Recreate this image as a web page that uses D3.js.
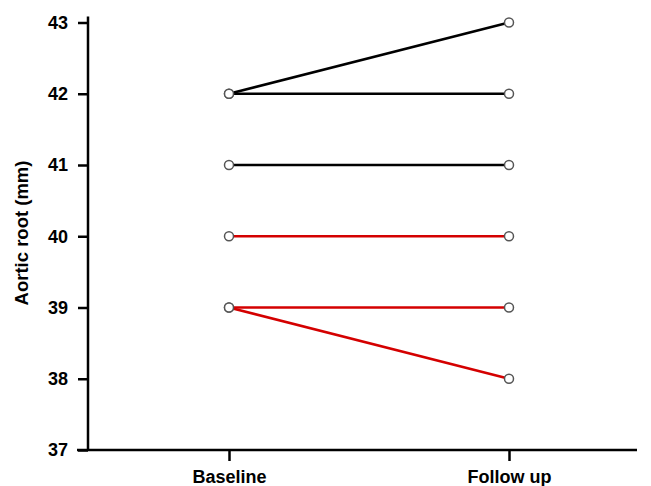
<!DOCTYPE html>
<html>
<head>
<meta charset="utf-8">
<script src="https://cdn.jsdelivr.net/npm/d3@7.9.0/dist/d3.min.js"></script>
<style>
  body { margin: 0; background: #fff; }
  svg { display: block; font-family: "Liberation Sans", Arial, sans-serif; }
</style>
</head>
<body>
<div id="chart"></div>
<script>
const timepoints = ['Baseline', 'Follow up'];
const baseline = [42, 42, 41, 40, 39, 39];
const followUp = [43, 42, 41, 40, 39, 38];
const groups = ['black', 'black', 'black', 'red', 'red', 'red'];
const yTicks = [37, 38, 39, 40, 41, 42, 43];

const width = 651;
const height = 486;

const svg = d3.select('#chart')
  .append('svg')
  .attr('width', width)
  .attr('height', height);

// scales
const x = d3.scalePoint().domain(timepoints).range([229, 509]);
const y = d3.scaleLinear().domain([37, 43]).range([450, 22.5]);

const colour = { black: '#000', red: '#d40000' };

// y axis
const yAxis = svg.append('g')
  .attr('transform', 'translate(88,0)')
  .call(d3.axisLeft(y).tickValues(yTicks).tickSize(10).tickPadding(10).tickFormat(d3.format('d')));
yAxis.select('.domain').remove();
yAxis.selectAll('line').attr('stroke', '#000').attr('stroke-width', 2.5);
yAxis.selectAll('text')
  .attr('fill', '#000')
  .attr('font-size', 18)
  .attr('font-weight', 'bold');
svg.append('line')
  .attr('x1', 88).attr('x2', 88)
  .attr('y1', 16.5).attr('y2', y(37))
  .attr('stroke', '#000').attr('stroke-width', 2.5);

// x axis
const xAxis = svg.append('g')
  .attr('transform', `translate(0,${y(37)})`)
  .call(d3.axisBottom(x).tickSize(11).tickPadding(9));
xAxis.select('.domain').remove();
xAxis.selectAll('line').attr('stroke', '#000').attr('stroke-width', 2.5);
xAxis.selectAll('text')
  .attr('fill', '#000')
  .attr('font-size', 18)
  .attr('font-weight', 'bold');
svg.append('line')
  .attr('x1', 77).attr('x2', 637)
  .attr('y1', y(37)).attr('y2', y(37))
  .attr('stroke', '#000').attr('stroke-width', 2.5);

// axis title
svg.append('text')
  .attr('transform', `translate(28,233) rotate(-90)`)
  .attr('text-anchor', 'middle')
  .attr('font-size', 18.5)
  .attr('font-weight', 'bold')
  .text('Aortic root (mm)');

// paired lines
const pairs = baseline.map((b, i) => ({ b, f: followUp[i], g: groups[i] }));

svg.append('g').selectAll('line')
  .data(pairs)
  .join('line')
  .attr('x1', x('Baseline'))
  .attr('x2', x('Follow up'))
  .attr('y1', d => y(d.b))
  .attr('y2', d => y(d.f))
  .attr('stroke', d => colour[d.g])
  .attr('stroke-width', 2.5);

// points
const points = pairs.flatMap(d => [
  { t: 'Baseline', v: d.b },
  { t: 'Follow up', v: d.f }
]);

svg.append('g').selectAll('circle')
  .data(points)
  .join('circle')
  .attr('cx', d => x(d.t))
  .attr('cy', d => y(d.v))
  .attr('r', 4.5)
  .attr('fill', '#fff')
  .attr('stroke', '#555')
  .attr('stroke-width', 1.5);
</script>
</body>
</html>
